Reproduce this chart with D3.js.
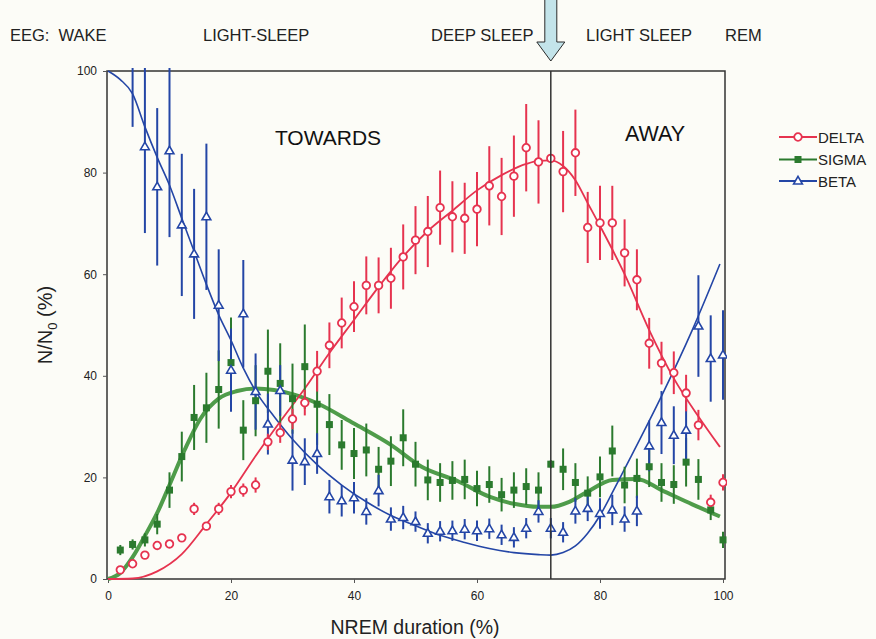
<!DOCTYPE html>
<html>
<head>
<meta charset="utf-8">
<script src="https://cdn.jsdelivr.net/npm/d3@7"></script>
<style>
  body { margin: 0; background: #fcfcf7; }
  #chart { width: 876px; height: 639px; }
</style>
</head>
<body>
<div id="chart"></div>
<script>
// NREM position (%) of every averaged point
const xsAll = [2,4,6,8,10,12,14,16,18,20,22,24,26,28,30,32,34,36,38,40,42,44,46,48,50,
  52,54,56,58,60,62,64,66,68,70,72,74,76,78,80,82,84,86,88,90,92,94,96,98,100];
const xsBeta = xsAll.slice(1);

const deltaVals = [1.8,3,4.7,6.6,6.9,8.1,13.8,10.4,13.8,17.2,17.5,18.5,27,28.8,31.5,34.7,40.9,46,50.4,53.6,
  57.8,57.8,59.2,63.4,66.7,68.4,73.1,71.3,71,72.8,77.4,75.3,79.3,84.9,82.1,82.8,80.2,83.9,69.2,70.1,
  70.1,64.2,58.9,46.4,42.5,40.6,36.6,30.3,15.1,19.0];
const deltaErr = [0.5,0.5,0.5,0.5,0.5,0.5,1.2,0.8,1.2,1.3,1.3,1.5,1.6,2,2,2.5,4,4.5,5,5,
  5.7,5.5,6,6.4,6.7,7,7.3,7,7,7.3,7.8,7.6,8,8.6,8.2,0.8,8,8.5,7,7.3,
  7.3,6.6,6,5,4.2,4.2,3.6,3,1.5,1.6];

const sigmaVals = [5.7,6.8,7.7,10.8,17.5,24.1,31.8,33.7,37.3,42.6,29.3,35.1,40.9,38.5,35.5,41.8,34.4,30.4,26.4,24.7,
  25.4,21.6,23.2,27.8,22.6,19.5,19,19.4,19.6,17.8,18.6,16.6,17.5,18.2,17.5,22.6,21.6,19,16.9,20.1,
  25.2,18.5,19.8,22.1,19,18.6,23,19.6,13.6,7.7];
const sigmaErr = [1,1,1.3,2,3.5,4.9,6.4,6.9,7.7,8.9,5.9,7,8.2,7.9,6.9,8.3,8,6,4.9,5,
  5.2,4.4,4.9,5.6,4.4,4,3.8,3.8,3.9,3.5,3.6,3.3,3.5,3.6,3.5,0.8,4.1,3.8,3.3,4,
  5,3.6,3.9,4,3.8,3.8,4.8,4,2,1.6];

const betaVals = [104,85.1,77.2,84.3,69.7,64,71.3,53.9,41.1,52.2,36.9,30.5,37.1,23.4,23.1,24.7,16.2,15.4,16,13.3,
  17.4,11.8,12.1,11.3,9,9.4,9.5,9.8,9.5,9.9,8.7,8.2,10,13.3,10,9.2,13.4,13.9,12.9,13.6,
  11.8,13.4,26.2,30.8,28.3,29.3,49.8,43.4,44.1];
const betaErr = [15,17,15.5,17,14,12.8,14.4,11,8.2,10.6,7.5,6,5,6,4.6,4,3.3,3.1,3.1,2.6,
  3.1,2.3,2.3,2,2,2,2,2,2,2,2,2,2,2.2,2,2,2.5,2.5,3,3,
  2.5,3,5,6.2,5.7,5.9,10,8.5,8.8];

// fitted curves as [x, y]
const deltaFit = [[0,0],[4,0.1],[8,1.5],[12,4.9],[16,10.8],[20,17],[24,24.2],[28,31],[32,37.5],[36,44.5],
  [40,51],[44,57.5],[48,63.5],[52,68.5],[56,72.5],[60,76.5],[64,79.5],[68,81.7],[70,82.3],[72,82.4],
  [74,81.3],[76,78.5],[78,74],[80,69.5],[84,60],[88,49],[92,39.5],[96,32],[99.5,26]];
const sigmaFit = [[0,0],[2,1.2],[4,4.3],[6,8.5],[8,13],[10,18.5],[12.5,25.5],[15,31.5],[18,35.5],[21,37],
  [24,37.5],[27,37.2],[30,36.4],[34,34.6],[40,30.6],[46,26.4],[51,22.1],[57,19.2],[62,16.2],[66,14.8],
  [70,14.2],[72,14.2],[75,15.2],[78,17.2],[82,19.5],[86,19.7],[90,17.5],[95,14.7],[99.5,12.3]];
const betaFit = [[0,100],[2,98.3],[4,95.5],[6,89],[8,83],[10,77.5],[12,71],[14,64.5],[16,58],[18,52],
  [20,47],[22,41.5],[24,37],[27,32],[30,27.5],[34,22.5],[38,18.5],[42,15.2],[46,12.5],[50,10.5],
  [54,8.6],[58,7.2],[62,6],[66,5.2],[70,4.8],[72,4.7],[74,5.2],[76,6.5],[78,9],[80,12.5],[82,17],
  [85,24],[90,36],[95,49],[99.5,62]];

const xTicks = [0,20,40,60,80,100];
const yTicks = [0,20,40,60,80,100];
const stageLabels = ["EEG:  WAKE","LIGHT-SLEEP","DEEP SLEEP","LIGHT SLEEP","REM"];
const stageX = [10,203,431,586,725];
const legendNames = ["DELTA","SIGMA","BETA"];
const turnPoint = 72;

(function() {
    const width = 876, height = 639;
    const red = "#e6334f", green = "#2b7a2e", greenFit = "#4f9c4a", blue = "#2446a6";
    const font = "'Liberation Sans', Arial, sans-serif";

    const x = d3.scaleLinear().domain([0, 100]).range([108, 723]);
    const y = d3.scaleLinear().domain([0, 100]).range([579, 71]);

    const svg = d3.select("#chart").append("svg")
        .attr("width", width)
        .attr("height", height)
        .style("font-family", font);

    svg.append("rect").attr("width", width).attr("height", height).attr("fill", "#fcfcf7");

    svg.append("defs").append("clipPath").attr("id", "plotclip")
        .append("rect").attr("x", 105).attr("y", 68).attr("width", 622).attr("height", 514);

    // frame
    svg.append("rect")
        .attr("x", 107).attr("y", 71)
        .attr("width", 725 - 107).attr("height", 579 - 71)
        .attr("fill", "none").attr("stroke", "#333").attr("stroke-width", 1.5);

    // axes
    const yAxis = svg.append("g")
        .attr("transform", "translate(107,0)")
        .call(d3.axisLeft(y).tickValues(yTicks).tickSize(4).tickPadding(6).tickFormat(d3.format("d")));
    const xAxis = svg.append("g")
        .attr("transform", "translate(0,579)")
        .call(d3.axisBottom(x).tickValues(xTicks).tickSize(4).tickPadding(8).tickFormat(d3.format("d")));
    [xAxis, yAxis].forEach(a => {
        a.select(".domain").remove();
        a.selectAll("line").attr("stroke", "#555");
        a.selectAll("text").attr("font-size", 12).attr("font-family", font).attr("fill", "#222");
    });

    svg.append("text")
        .attr("x", 415).attr("y", 634)
        .attr("text-anchor", "middle")
        .attr("font-size", 19.5).attr("fill", "#222")
        .text("NREM duration (%)");

    const ylab = svg.append("text")
        .attr("transform", "translate(52,325) rotate(-90)")
        .attr("text-anchor", "middle")
        .attr("font-size", 20).attr("fill", "#222");
    ylab.append("tspan").text("N/N");
    ylab.append("tspan").attr("font-size", 13).attr("dy", 5).text("0");
    ylab.append("tspan").attr("dy", -5).text(" (%)");

    // stage names across the top
    svg.append("g").selectAll("text")
        .data(stageLabels)
        .enter().append("text")
        .attr("x", (d, i) => stageX[i]).attr("y", 41)
        .attr("font-size", 16.5).attr("fill", "#222")
        .style("white-space", "pre")
        .text(d => d);

    svg.append("text").attr("x", 328).attr("y", 145).attr("text-anchor", "middle")
        .attr("font-size", 21).attr("fill", "#111").text("TOWARDS");
    svg.append("text").attr("x", 655).attr("y", 141).attr("text-anchor", "middle")
        .attr("font-size", 21.5).attr("fill", "#111").text("AWAY");

    // arrow at the turning point
    const ax = x(turnPoint);
    svg.append("path")
        .attr("d", `M${ax-6},-2 L${ax+6},-2 L${ax+6},42 L${ax+14},42 L${ax},61 L${ax-14},42 L${ax-6},42 Z`)
        .attr("fill", "#c3e4ea").attr("stroke", "#2a2a2a").attr("stroke-width", 1);

    const plot = svg.append("g").attr("clip-path", "url(#plotclip)");

    // fitted curves
    const line = d3.line().x(d => x(d[0])).y(d => y(d[1])).curve(d3.curveMonotoneX);
    plot.append("path").datum(sigmaFit).attr("d", line)
        .attr("fill", "none").attr("stroke", greenFit).attr("stroke-width", 4);
    plot.append("path").datum(betaFit).attr("d", line)
        .attr("fill", "none").attr("stroke", blue).attr("stroke-width", 1.6);
    plot.append("path").datum(deltaFit).attr("d", line)
        .attr("fill", "none").attr("stroke", red).attr("stroke-width", 1.8);

    const series = [
        { name: "SIGMA", xs: xsAll, vals: sigmaVals, err: sigmaErr, color: green, shape: "square" },
        { name: "BETA", xs: xsBeta, vals: betaVals, err: betaErr, color: blue, shape: "triangle" },
        { name: "DELTA", xs: xsAll, vals: deltaVals, err: deltaErr, color: red, shape: "circle" }
    ];
    series.forEach(s => {
        s.points = s.xs.map((xv, i) => ({ x: xv, y: s.vals[i], e: s.err[i] }));
    });

    // error bars
    series.forEach(s => {
        plot.append("g").selectAll("line")
            .data(s.points)
            .enter().append("line")
            .attr("x1", d => x(d.x)).attr("x2", d => x(d.x))
            .attr("y1", d => y(d.y - d.e)).attr("y2", d => y(d.y + d.e))
            .attr("stroke", s.color).attr("stroke-width", 2);
    });

    // turning point line
    svg.append("line")
        .attr("x1", ax).attr("x2", ax).attr("y1", 71).attr("y2", 579)
        .attr("stroke", "#333").attr("stroke-width", 1.5);

    function drawMarker(g, shape, color) {
        if (shape === "circle") {
            g.append("circle").attr("r", 3.8)
                .attr("fill", "#fff").attr("stroke", color).attr("stroke-width", 1.8);
        } else if (shape === "square") {
            g.append("rect").attr("x", -3.5).attr("y", -3.5).attr("width", 7).attr("height", 7)
                .attr("fill", color);
        } else {
            g.append("path").attr("d", "M0,-4.6 L4.4,3 L-4.4,3 Z")
                .attr("fill", "#fff").attr("stroke", color).attr("stroke-width", 1.6);
        }
    }

    series.forEach(s => {
        plot.append("g").selectAll("g")
            .data(s.points)
            .enter().append("g")
            .attr("transform", d => `translate(${x(d.x)},${y(d.y)})`)
            .each(function() { drawMarker(d3.select(this), s.shape, s.color); });
    });

    // legend
    const legendY = [137, 159.5, 181];
    const legendSeries = legendNames.map(n => series.find(s => s.name === n));
    const leg = svg.append("g").selectAll("g")
        .data(legendSeries)
        .enter().append("g")
        .attr("transform", (d, i) => `translate(779,${legendY[i]})`);
    leg.append("line").attr("x1", 0).attr("x2", 38)
        .attr("stroke", d => d.color).attr("stroke-width", 2);
    leg.each(function(d) {
        const m = d3.select(this).append("g").attr("transform", "translate(19,0)");
        drawMarker(m, d.shape, d.color);
    });
    leg.append("text").attr("x", 39).attr("y", 5.5)
        .attr("font-size", 15).attr("fill", "#222")
        .text(d => d.name);
})();
</script>
</body>
</html>
